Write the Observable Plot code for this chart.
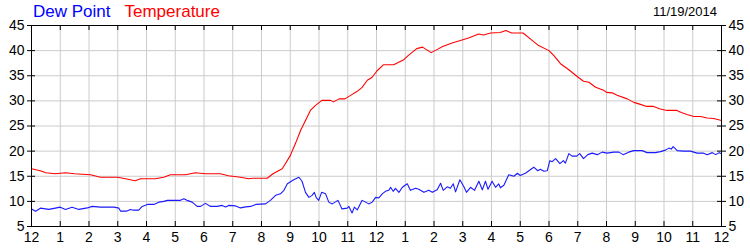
<!DOCTYPE html>
<html>
<head>
<meta charset="utf-8">
<script src="https://cdn.jsdelivr.net/npm/d3@7"></script>
<script src="https://cdn.jsdelivr.net/npm/@observablehq/plot@0.6"></script>
<style>
  html, body { margin: 0; padding: 0; background: #fff; }
  body { width: 750px; height: 250px; overflow: hidden; font-family: "Liberation Sans", Arial, sans-serif; }
  #head { position: relative; height: 18px; }
  #legend { position: absolute; left: 33px; top: 2px; font-size: 17px; white-space: nowrap; line-height: 20px; }
  #legend .dew { color: #0000ff; }
  #legend .temp { color: #ff0000; margin-left: 14px; }
  #date { position: absolute; right: 33px; top: 4px; font-size: 13px; color: #000; }
</style>
</head>
<body>
<div id="head">
  <div id="legend"><span class="dew">Dew Point</span><span class="temp">Temperature</span></div>
  <div id="date">11/19/2014</div>
</div>
<div id="chart"></div>
<script>
// hours since midnight, values in °F
const tempHours = [0, 0.31, 0.5, 0.83, 1.18, 1.5, 2.05, 2.4, 3.0, 3.27, 3.6, 3.8, 4.3, 4.6, 4.83, 5.36, 5.7, 6.05, 6.57, 6.85, 7.27, 7.55,
  7.7, 8.2, 8.4, 8.72, 8.83, 9.0, 9.18, 9.36, 9.53, 9.7, 9.88, 10.1, 10.4, 10.5, 10.7, 10.9, 11.1, 11.33, 11.5, 11.68, 11.85, 12.02,
  12.25, 12.6, 12.77, 12.95, 13.1, 13.4, 13.6, 13.9, 14.1, 14.3, 14.63, 14.92, 15.2, 15.55, 15.72, 15.97, 16.3, 16.5, 16.7, 17.1,
  17.36, 17.64, 18.0, 18.17, 18.4, 18.69, 18.98, 19.2, 19.39, 19.62, 19.9, 20.0, 20.2, 20.37, 20.72, 20.95, 21.18, 21.4, 21.64,
  21.87, 22.1, 22.45, 22.6, 22.8, 23.04, 23.27, 23.5, 23.73, 24.0];
const tempValues = [16.5, 16.1, 15.7, 15.5, 15.7, 15.5, 15.3, 14.8, 14.8, 14.5, 14.1, 14.5, 14.5, 14.8, 15.3, 15.3, 15.7, 15.5, 15.5, 15.1, 14.8, 14.5,
  14.6, 14.6, 15.5, 16.5, 17.5, 19.1, 21.5, 24.1, 26.1, 28.1, 29.1, 30.1, 30.1, 29.8, 30.4, 30.4, 31.1, 31.9, 32.7, 34.1, 34.7, 36.0,
  37.2, 37.2, 37.7, 38.2, 39.0, 40.4, 40.7, 39.6, 40.2, 40.8, 41.5, 42.0, 42.5, 43.3, 43.1, 43.5, 43.6, 44.0, 43.5, 43.5,
  42.3, 41.0, 40.0, 39.0, 37.4, 36.2, 34.85, 33.9, 33.7, 32.7, 32.1, 31.7, 31.6, 31.1, 30.4, 29.7, 29.3, 28.9, 28.9,
  28.4, 28.1, 28.1, 27.7, 27.3, 26.9, 26.9, 26.6, 26.5, 26.1];

const dewHours = [0, 0.14, 0.31, 0.6, 0.83, 1.0, 1.18, 1.41, 1.65, 1.94, 2.11, 2.4, 2.87, 3.04, 3.1, 3.3, 3.44, 3.55, 3.73, 3.85, 4.03, 4.25,
  4.43, 4.6, 4.73, 5.18, 5.3, 5.41, 5.59, 5.76, 5.88, 6.05, 6.23, 6.46, 6.63, 6.75, 6.86, 7.1, 7.27, 7.45, 7.62, 7.8, 8.14, 8.31,
  8.49, 8.66, 8.78, 8.9, 9.12, 9.3, 9.41, 9.53, 9.65, 9.76, 9.84, 9.9, 9.99, 10.09, 10.23, 10.34, 10.46, 10.66, 10.8, 10.98, 11.04,
  11.15, 11.23, 11.33, 11.5, 11.62, 11.73, 11.85, 11.97, 12.08, 12.2, 12.31, 12.43, 12.49, 12.58, 12.66, 12.78, 12.9, 13.07, 13.18,
  13.36, 13.47, 13.65, 13.82, 13.94, 14.11, 14.23, 14.32, 14.46, 14.57, 14.67, 14.75, 14.9, 15.04, 15.13, 15.27, 15.41, 15.56,
  15.68, 15.79, 15.88, 16.02, 16.14, 16.25, 16.31, 16.43, 16.6, 16.78, 16.9, 17.0, 17.18, 17.3, 17.47, 17.61, 17.7, 17.82, 17.94,
  18.03, 18.11, 18.23, 18.38, 18.5, 18.57, 18.69, 18.8, 18.96, 19.07, 19.2, 19.35, 19.5, 19.68, 19.85, 20.02, 20.25, 20.43, 20.58,
  20.77, 20.95, 21.24, 21.41, 21.7, 21.88, 22.05, 22.17, 22.25, 22.32, 22.46, 22.69, 22.92, 23.15, 23.38, 23.5, 23.68, 23.8, 23.92, 24.0];
const dewValues = [8.5, 8.05, 8.65, 8.4, 8.65, 8.85, 8.4, 8.85, 8.4, 8.7, 9.0, 8.85, 8.85, 8.65, 8.05, 8.05, 8.4, 8.25, 8.25, 9.0, 9.4, 9.4,
  9.85, 10.0, 10.2, 10.2, 10.5, 10.2, 9.85, 9.0, 9.0, 9.6, 9.0, 9.0, 9.2, 8.9, 9.2, 9.1, 8.7, 8.9, 9.0, 9.4, 9.5, 10.2,
  11.2, 11.5, 12.2, 13.5, 14.3, 14.8, 14.0, 11.8, 10.8, 11.2, 11.8, 10.8, 10.2, 11.8, 11.5, 9.85, 9.5, 10.2, 8.5, 8.65, 9.0,
  7.7, 8.85, 8.3, 10.2, 9.85, 9.5, 9.85, 10.8, 10.7, 11.5, 12.0, 12.2, 12.8, 12.0, 12.6, 11.8, 12.8, 13.5, 12.2,
  12.6, 12.4, 11.8, 12.2, 11.8, 12.3, 13.6, 12.2, 12.9, 12.6, 13.5, 11.9, 14.3, 12.9, 11.8, 12.8, 12.2, 14.0,
  12.3, 14.0, 12.4, 14.0, 12.8, 13.5, 12.7, 13.2, 15.3, 15.0, 15.6, 15.15, 15.6, 16.1, 16.8, 16.1, 16.4, 16.0, 16.1,
  18.1, 17.9, 18.5, 17.5, 18.1, 17.6, 19.5, 19.0, 19.0, 19.5, 18.5, 19.3, 19.6, 19.3, 19.8, 19.6, 19.8, 19.8, 19.3,
  19.8, 20.1, 20.1, 19.7, 19.7, 19.9, 20.2, 20.6, 20.4, 20.9, 20.1, 20.0, 20.0, 19.6, 19.6, 19.3, 19.7, 19.3, 19.7, 19.5];

const hourTicks = d3.range(0, 25);
const hourLabels = ["12","1","2","3","4","5","6","7","8","9","10","11","12","1","2","3","4","5","6","7","8","9","10","11","12"];
const valueTicks = [5, 10, 15, 20, 25, 30, 35, 40, 45];

const temp = tempHours.map((h, i) => ({h, v: tempValues[i]}));
const dew = dewHours.map((h, i) => ({h, v: dewValues[i]}));

const chart = Plot.plot({
  width: 750,
  height: 232,
  marginLeft: 31,
  marginRight: 29,
  marginTop: 7,
  marginBottom: 24,
  style: {fontFamily: "'Liberation Sans', Arial, sans-serif", fontSize: "14px", color: "#000", background: "#fff"},
  x: {domain: [0, 24], label: null},
  y: {domain: [5, 45], label: null},
  marks: [
    Plot.gridX(hourTicks, {stroke: "#cccccc", strokeOpacity: 1, strokeWidth: 1}),
    Plot.gridY(valueTicks, {stroke: "#cccccc", strokeOpacity: 1, strokeWidth: 1}),
    // inward hour ticks at top and bottom
    Plot.ruleX(hourTicks, {stroke: "#000", insetTop: 196}),
    Plot.ruleX(hourTicks, {stroke: "#000", insetBottom: 196}),
    // inward value ticks left and right
    Plot.ruleY(valueTicks, {stroke: "#000", insetRight: 686}),
    Plot.ruleY(valueTicks, {stroke: "#000", insetLeft: 686}),
    Plot.axisX(hourTicks, {anchor: "bottom", label: null, tickSize: 0, tickPadding: 6, tickFormat: (d, i) => hourLabels[i], fontSize: 14}),
    Plot.axisY(valueTicks, {anchor: "left", label: null, tickSize: 4, tickPadding: 3, fontSize: 14}),
    Plot.axisY(valueTicks, {anchor: "right", label: null, tickSize: 4, tickPadding: 3, fontSize: 14}),
    Plot.line(dew, {x: "h", y: "v", stroke: "#1a1aff", strokeWidth: 1.1}),
    Plot.line(temp, {x: "h", y: "v", stroke: "#ff0000", strokeWidth: 1.1}),
    Plot.frame({stroke: "#000", strokeWidth: 1})
  ]
});
document.getElementById("chart").appendChild(chart);
</script>
</body>
</html>
